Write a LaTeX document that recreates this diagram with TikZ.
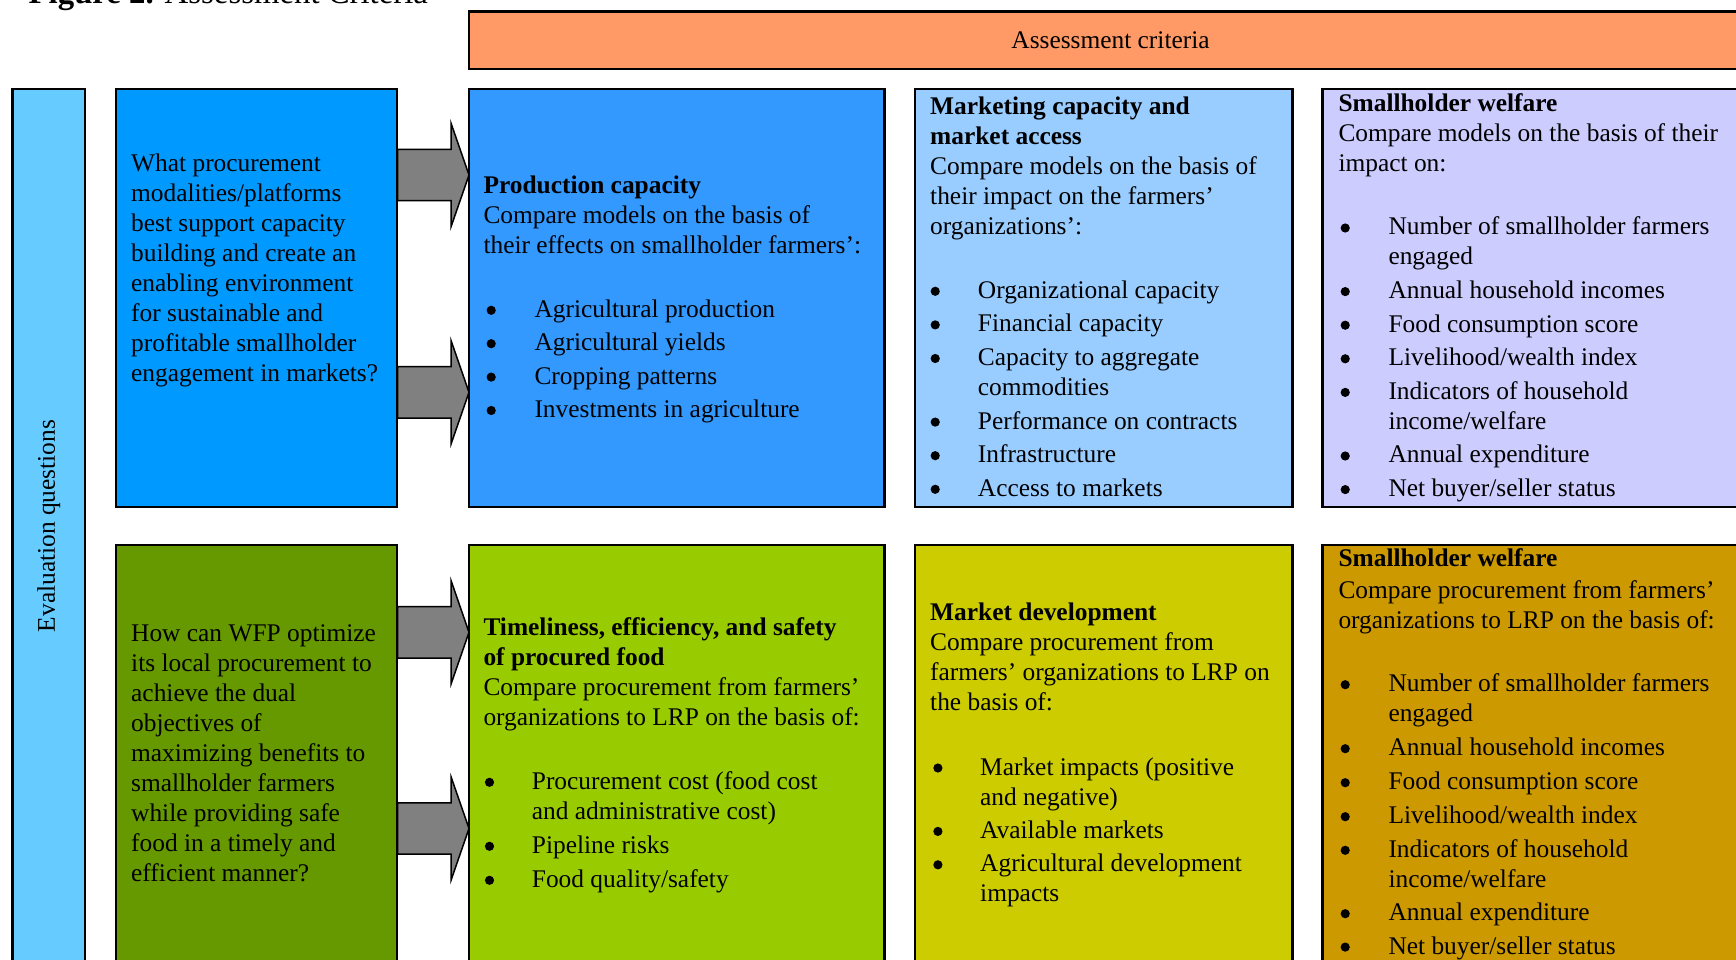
\documentclass[tikz,border=0pt]{standalone}
\usepackage{fontspec}
\setmainfont{Liberation Serif}

\definecolor{critorange}{HTML}{FF9966}
\definecolor{evalblue}{HTML}{66CCFF}
\definecolor{qblue}{HTML}{0099FF}
\definecolor{prodblue}{HTML}{3399FF}
\definecolor{mktblue}{HTML}{99CCFF}
\definecolor{welflilac}{HTML}{CCCCFF}
\definecolor{qgreen}{HTML}{669900}
\definecolor{timegreen}{HTML}{99CC00}
\definecolor{mdevyellow}{HTML}{CCCC00}
\definecolor{welfgold}{HTML}{CC9900}
\definecolor{arrowgray}{HTML}{808080}

% bullet lists: \bpre = space before the bullet, \bind = indent of the item text
\newlength\bpre
\newlength\bind
\newcommand\bdot{\tikz[x=1pt,y=1pt,baseline=0pt]\fill[black] (4.6,7) circle[radius=4.6];}
\newcommand\bitem[1]{\makebox[\bind][l]{\hspace*{\bpre}\bdot}#1}
\newcommand\bcont[1]{\hspace*{\bind}#1}
\newcommand\bodysize{\fontsize{25.4pt}{30pt}\selectfont}

\tikzset{
  panel/.style={draw=black, line width=2.5pt, anchor=north west,
    inner sep=0pt, outer sep=0pt},
  blockarrow/.style={draw=black, line width=1.5pt, fill=arrowgray, line join=miter},
  txt/.style={anchor=base west, inner sep=0pt, font=\bodysize},
}

\begin{document}
\begin{tikzpicture}[x=1pt, y=-1pt]
\useasboundingbox (0,0) rectangle (1736,960);
\clip (0,0) rectangle (1736,960);

% caption
\node[anchor=base west, inner sep=0pt, font=\fontsize{32.8pt}{36pt}\selectfont]
  (title) at (28.5,4) {\textbf{Figure 2.} Assessment Criteria};

% header bar and side bar
\node[panel, fill=critorange, minimum width=1400pt, minimum height=57.3pt] (crit) at (469,11.7) {};
\node[anchor=base, inner sep=0pt, font=\bodysize] (critt) at (1110.5,48.3) {Assessment criteria};

\node[panel, fill=evalblue, minimum width=72.3pt, minimum height=1100pt] (evalbar) at (12.7,89) {};
\node[rotate=90, inner sep=0pt, font=\bodysize] (evalt) at (48.8,526) {Evaluation questions};

% first row
\node[panel, fill=qblue, minimum width=281pt, minimum height=418pt] (q1) at (116,89) {};
\node[panel, fill=prodblue, minimum width=415.5pt, minimum height=418pt] (prod) at (469,89) {};
\node[panel, fill=mktblue, minimum width=377.3pt, minimum height=418pt] (mkt) at (915,89) {};
\node[panel, fill=welflilac, minimum width=600pt, minimum height=418pt] (sw1) at (1322.7,89) {};

% second row
\node[panel, fill=qgreen, minimum width=281pt, minimum height=600pt] (q2) at (116,545) {};
\node[panel, fill=timegreen, minimum width=415.5pt, minimum height=600pt] (time) at (469,545) {};
\node[panel, fill=mdevyellow, minimum width=377.3pt, minimum height=600pt] (mdev) at (915,545) {};
\node[panel, fill=welfgold, minimum width=600pt, minimum height=600pt] (sw2) at (1322.7,545) {};

% block arrows from the questions to the first criteria column
\coordinate (r1) at (0,175);
\coordinate (r2) at (0,392.3);
\coordinate (r3) at (0,632.3);
\coordinate (r4) at (0,828.5);
\draw[blockarrow] (prod.west |- r1) -- ++(-17.8,-51.3) -- ++(0,25.6) -- ++(-53.5,0)
  -- ++(0,51.4) -- ++(53.5,0) -- ++(0,25.6) -- cycle;
\draw[blockarrow] (prod.west |- r2) -- ++(-17.8,-51.3) -- ++(0,25.6) -- ++(-53.5,0)
  -- ++(0,51.4) -- ++(53.5,0) -- ++(0,25.6) -- cycle;
\draw[blockarrow] (time.west |- r3) -- ++(-17.8,-51.3) -- ++(0,25.6) -- ++(-53.5,0)
  -- ++(0,51.4) -- ++(53.5,0) -- ++(0,25.6) -- cycle;
\draw[blockarrow] (time.west |- r4) -- ++(-17.8,-51.3) -- ++(0,25.6) -- ++(-53.5,0)
  -- ++(0,51.4) -- ++(53.5,0) -- ++(0,25.6) -- cycle;

% question texts
\node[txt] (q1t) at (131,171.7) {\parbox[t]{400pt}{%
What procurement\\
modalities/platforms\\
best support capacity\\
building and create an\\
enabling environment\\
for sustainable and\\
profitable smallholder\\
engagement in markets?}};

\node[txt] (q2t) at (131,641.7) {\parbox[t]{400pt}{%
How can WFP optimize\\
its local procurement to\\
achieve the dual\\
objectives of\\
maximizing benefits to\\
smallholder farmers\\
while providing safe\\
food in a timely and\\
efficient manner?}};

% criteria texts, first row
\node[txt] (prodt) at (483.3,193.3) {\parbox[t]{600pt}{%
\setlength\bpre{3.1pt}\setlength\bind{51pt}%
\textbf{Production capacity}\\
Compare models on the basis of\\
their effects on smallholder farmers’:\\[34pt]
\bitem{Agricultural production}\\[3.4pt]
\bitem{Agricultural yields}\\[3.4pt]
\bitem{Cropping patterns}\\[3.4pt]
\bitem{Investments in agriculture}}};

\node[txt] (mktt) at (930,114.3) {\parbox[t]{600pt}{%
\setlength\bpre{0.4pt}\setlength\bind{47.7pt}%
\textbf{Marketing capacity and}\\
\textbf{market access}\\
Compare models on the basis of\\
their impact on the farmers’\\
organizations’:\\[34pt]
\bitem{Organizational capacity}\\[3.6pt]
\bitem{Financial capacity}\\[3.6pt]
\bitem{Capacity to aggregate}\\
\bcont{commodities}\\[3.6pt]
\bitem{Performance on contracts}\\[3.6pt]
\bitem{Infrastructure}\\[3.6pt]
\bitem{Access to markets}}};

\node[txt] (sw1t) at (1338.3,111.7) {\parbox[t]{600pt}{%
\setlength\bpre{2.1pt}\setlength\bind{50pt}%
\textbf{Smallholder welfare}\\
Compare models on the basis of their\\
impact on:\\[33.3pt]
\bitem{Number of smallholder farmers}\\
\bcont{engaged}\\[3.6pt]
\bitem{Annual household incomes}\\[3.6pt]
\bitem{Food consumption score}\\[3.6pt]
\bitem{Livelihood/wealth index}\\[3.6pt]
\bitem{Indicators of household}\\
\bcont{income/welfare}\\[3.6pt]
\bitem{Annual expenditure}\\[3.6pt]
\bitem{Net buyer/seller status}}};

% criteria texts, second row
\node[txt] (timet) at (483.3,635) {\parbox[t]{600pt}{%
\setlength\bpre{1.4pt}\setlength\bind{48.4pt}%
\textbf{Timeliness, efficiency, and safety}\\
\textbf{of procured food}\\
Compare procurement from farmers’\\
organizations to LRP on the basis of:\\[34.3pt]
\bitem{Procurement cost (food cost}\\
\bcont{and administrative cost)}\\[4pt]
\bitem{Pipeline risks}\\[4pt]
\bitem{Food quality/safety}}};

\node[txt] (mdevt) at (930,620) {\parbox[t]{600pt}{%
\setlength\bpre{3.1pt}\setlength\bind{50pt}%
\textbf{Market development}\\
Compare procurement from\\
farmers’ organizations to LRP on\\
the basis of:\\[35pt]
\bitem{Market impacts (positive}\\
\bcont{and negative)}\\[3.4pt]
\bitem{Available markets}\\[3.4pt]
\bitem{Agricultural development}\\
\bcont{impacts}}};

\node[txt] (sw2t) at (1338.3,566.7) {\parbox[t]{600pt}{%
\setlength\bpre{2.1pt}\setlength\bind{50pt}%
\textbf{Smallholder welfare}\\[1.6pt]
Compare procurement from farmers’\\
organizations to LRP on the basis of:\\[33.4pt]
\bitem{Number of smallholder farmers}\\
\bcont{engaged}\\[4pt]
\bitem{Annual household incomes}\\[4pt]
\bitem{Food consumption score}\\[4pt]
\bitem{Livelihood/wealth index}\\[3.6pt]
\bitem{Indicators of household}\\
\bcont{income/welfare}\\[3.4pt]
\bitem{Annual expenditure}\\[3.4pt]
\bitem{Net buyer/seller status}}};
\end{tikzpicture}
\end{document}
